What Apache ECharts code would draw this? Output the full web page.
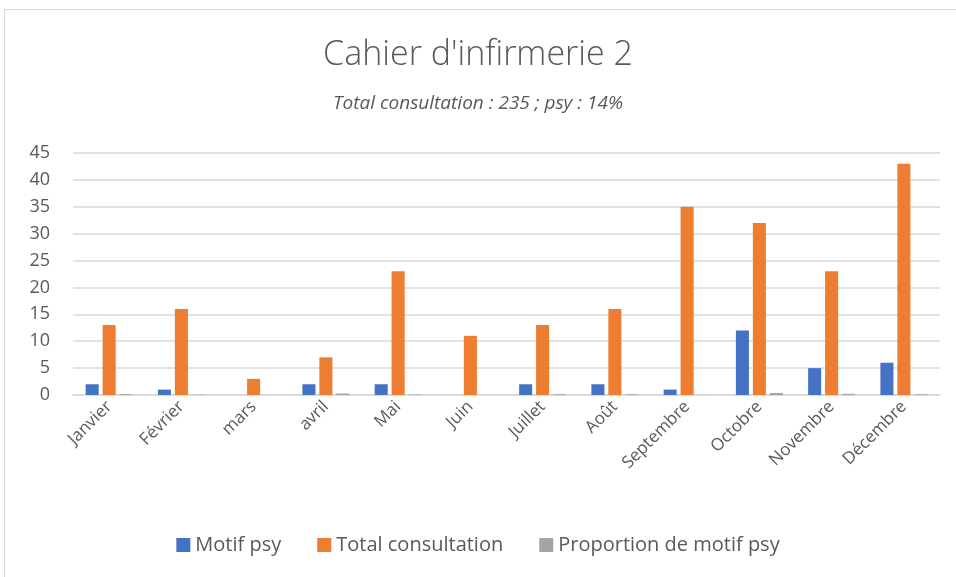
<!DOCTYPE html>
<html>
<head>
<meta charset="utf-8">
<script src="https://cdn.jsdelivr.net/npm/echarts@6/dist/echarts.min.js"></script>
<style>
  html, body { margin: 0; padding: 0; background: #fff; }
  #frame { position: absolute; left: 4px; top: 9px; width: 960px; height: 580px; border: 1px solid #d9d9d9; box-sizing: border-box; }
  #chart { position: absolute; left: 0; top: 0; width: 956px; height: 577px; }
</style>
</head>
<body>
<div id="frame"></div>
<div id="chart"></div>
<script>
const months = ["Janvier", "Février", "mars", "avril", "Mai", "Juin", "Juillet", "Août", "Septembre", "Octobre", "Novembre", "Décembre"];
const motifPsy = [2, 1, 0, 2, 2, 0, 2, 2, 1, 12, 5, 6];
const totalConsultation = [13, 16, 3, 7, 23, 11, 13, 16, 35, 32, 23, 43];
const proportionPsy = [0.15, 0.06, 0, 0.29, 0.09, 0, 0.15, 0.13, 0.03, 0.38, 0.22, 0.14];
const yTicks = { min: 0, max: 45, interval: 5 };

const font = "'Open Sans', 'Noto Sans', sans-serif";
const chart = echarts.init(document.getElementById("chart"));

chart.setOption({
  backgroundColor: "transparent",
  animation: false,
  title: {
    text: "Cahier d'infirmerie 2",
    subtext: "Total consultation : 235 ; psy : 14%",
    left: "center",
    top: 33,
    itemGap: 22,
    textStyle: { fontFamily: font, fontSize: 34, fontWeight: 300, color: "#595959" },
    subtextStyle: { fontFamily: font, fontSize: 19, fontStyle: "italic", color: "#595959" },
  },
  legend: {
    bottom: 17,
    left: "center",
    itemWidth: 14,
    itemHeight: 14,
    itemGap: 36,
    icon: "rect",
    textStyle: { fontFamily: font, fontSize: 20, color: "#595959" },
  },
  grid: { left: 73, right: 16, top: 153, bottom: 182 },
  xAxis: {
    type: "category",
    data: months,
    axisTick: { show: false },
    axisLine: { lineStyle: { color: "#d9d9d9", width: 1.5 } },
    axisLabel: {
      rotate: 45,
      interval: 0,
      fontFamily: font,
      fontSize: 17,
      color: "#595959",
      margin: 9,
    },
  },
  yAxis: {
    type: "value",
    min: yTicks.min,
    max: yTicks.max,
    interval: yTicks.interval,
    axisLine: { show: false },
    axisTick: { show: false },
    splitLine: { lineStyle: { color: "#d9d9d9", width: 1.5 } },
    axisLabel: { fontFamily: font, fontSize: 18, color: "#595959", margin: 23 },
  },
  series: [
    {
      name: "Motif psy",
      type: "bar",
      data: motifPsy,
      itemStyle: { color: "#4472c4" },
      barGap: "30%",
      barCategoryGap: "35%",
    },
    {
      name: "Total consultation",
      type: "bar",
      data: totalConsultation,
      itemStyle: { color: "#ed7d31" },
    },
    {
      name: "Proportion de motif psy",
      type: "bar",
      data: proportionPsy,
      itemStyle: { color: "#a5a5a5" },
    },
  ],
});
</script>
</body>
</html>
